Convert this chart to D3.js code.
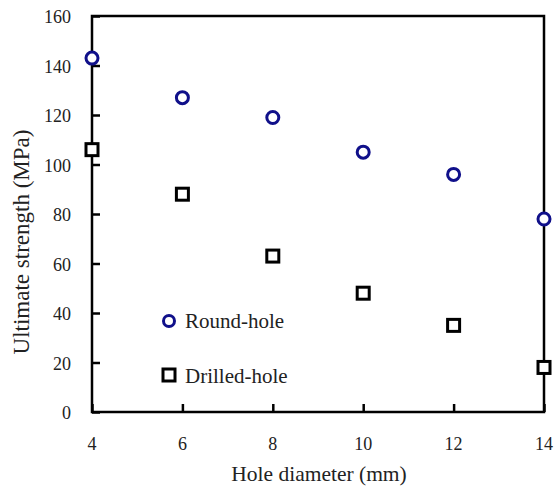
<!DOCTYPE html>
<meta charset="utf-8">
<style>
body { margin: 0; background: #fff; }
text { font-family: "Liberation Serif", "Times New Roman", serif; fill: #222; }
</style>
<svg width="558" height="489"></svg>
<script src="https://d3js.org/d3.v7.min.js"></script>
<script>
// hole diameter (mm)
var diameters = [4, 6, 8, 10, 12, 14]
var roundHole = [143, 127, 119, 105, 96, 78]
var drilledHole = [106, 88, 63, 48, 35, 18]
var xTicks = [4, 6, 8, 10, 12, 14]
var yTicks = [0, 20, 40, 60, 80, 100, 120, 140, 160]

var svg = d3.select("svg")
var plotLeft = 92, plotRight = 544, plotTop = 16, plotBottom = 412

var xScale = d3.scaleLinear().domain([4, 14]).range([plotLeft, plotRight])
var yScale = d3.scaleLinear().domain([0, 160]).range([plotBottom, plotTop])

// frame
svg.append("rect")
  .attr("x", plotLeft).attr("y", plotTop)
  .attr("width", plotRight - plotLeft).attr("height", plotBottom - plotTop)
  .attr("fill", "none").attr("stroke", "#000").attr("stroke-width", 2.5)

// y axis, ticks inward
var yAxis = svg.append("g")
  .attr("transform", "translate(" + plotLeft + ",0)")
  .call(d3.axisRight(yScale).tickValues(yTicks).tickSize(8).tickFormat(""))
yAxis.select(".domain").remove()
yAxis.selectAll("line").attr("stroke", "#000").attr("stroke-width", 2.5)

svg.append("g").selectAll("text")
  .data(yTicks)
  .enter().append("text")
  .attr("x", 71)
  .attr("y", function(d) { return yScale(d) + 7 })
  .attr("text-anchor", "end")
  .style("font-size", "18px")
  .text(function(d) { return d })

// x axis, ticks inward
var xAxis = svg.append("g")
  .attr("transform", "translate(0," + plotBottom + ")")
  .call(d3.axisTop(xScale).tickValues(xTicks).tickSize(8).tickFormat(""))
xAxis.select(".domain").remove()
xAxis.selectAll("line").attr("stroke", "#000").attr("stroke-width", 2.5)

svg.append("g").selectAll("text")
  .data(xTicks)
  .enter().append("text")
  .attr("x", function(d) { return xScale(d) })
  .attr("y", 450)
  .attr("text-anchor", "middle")
  .style("font-size", "18px")
  .text(function(d) { return d })

// axis labels
svg.append("text")
  .attr("x", 319).attr("y", 481)
  .attr("text-anchor", "middle")
  .style("font-size", "21.5px")
  .text("Hole diameter (mm)")

svg.append("text")
  .attr("transform", "translate(29," + 242 + ")rotate(-90)")
  .attr("text-anchor", "middle")
  .style("font-size", "23px")
  .text("Ultimate strength (MPa)")

// points
svg.append("g").selectAll("circle")
  .data(diameters)
  .enter().append("circle")
  .attr("cx", function(d) { return xScale(d) })
  .attr("cy", function(d, i) { return yScale(roundHole[i]) })
  .attr("r", 6)
  .attr("fill", "#fff")
  .attr("stroke", "#10108a")
  .attr("stroke-width", 3)

svg.append("g").selectAll("rect")
  .data(diameters)
  .enter().append("rect")
  .attr("x", function(d) { return xScale(d) - 6 })
  .attr("y", function(d, i) { return yScale(drilledHole[i]) - 6 })
  .attr("width", 12).attr("height", 12)
  .attr("fill", "#fff")
  .attr("stroke", "#000")
  .attr("stroke-width", 3)

// legend
svg.append("circle")
  .attr("cx", 169).attr("cy", 321).attr("r", 5.5)
  .attr("fill", "#fff").attr("stroke", "#10108a").attr("stroke-width", 3)
svg.append("text")
  .attr("x", 185).attr("y", 328)
  .style("font-size", "21px")
  .text("Round-hole")

svg.append("rect")
  .attr("x", 163).attr("y", 369).attr("width", 12).attr("height", 12)
  .attr("fill", "#fff").attr("stroke", "#000").attr("stroke-width", 3)
svg.append("text")
  .attr("x", 185).attr("y", 383)
  .style("font-size", "21px")
  .text("Drilled-hole")
</script>
